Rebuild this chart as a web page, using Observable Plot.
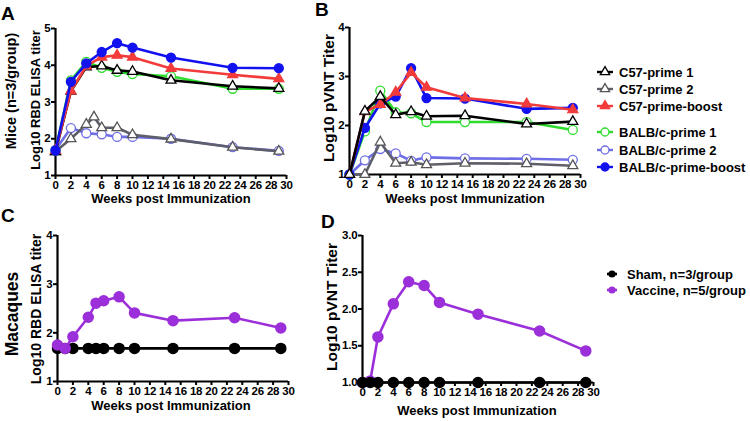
<!DOCTYPE html>
<html>
<head>
<meta charset="utf-8">
<script src="https://cdn.jsdelivr.net/npm/d3@7"></script>
<script src="https://cdn.jsdelivr.net/npm/@observablehq/plot@0.6"></script>
<style>
  html, body { margin: 0; padding: 0; background: #fff; }
  #root { position: relative; width: 750px; height: 421px; overflow: hidden; }
  .panel { position: absolute; }
  #overlay { position: absolute; left: 0; top: 0; pointer-events: none; }
</style>
</head>
<body>
<div id="root"></div>
<script>
// ---------- data ----------
const xTicks = [0,2,4,6,8,10,12,14,16,18,20,22,24,26,28,30];

// Panel A: mice RBD ELISA titer (log10)
const weeksMice = [0,2,4,6,8,10,15,23,29];
const weeksMiceC57p2 = [0,2,4,5,6,8,10,15,23,29];
const elisaC57p1  = [1.65,3.29,3.95,3.98,3.86,3.83,3.59,3.43,3.37];
const elisaC57p2  = [1.65,2.00,2.39,2.59,2.30,2.30,2.11,1.99,1.77,1.66];
const elisaC57pb  = [1.68,3.30,3.98,4.22,4.27,4.22,3.91,3.74,3.63];
const elisaBalbp1 = [1.68,3.59,4.09,3.93,3.82,3.76,3.70,3.36,3.36];
const elisaBalbp2 = [1.70,2.29,2.15,2.12,2.05,2.05,2.00,1.77,1.67];
const elisaBalbpb = [1.68,3.55,4.05,4.36,4.60,4.48,4.21,3.93,3.92];

// Panel B: mice pVNT titer (log10)
const pvntC57p1  = [1.00,2.29,2.59,2.22,2.28,2.19,2.20,2.03,2.08];
const pvntC57p2  = [1.00,1.00,1.66,1.23,1.25,1.20,1.23,1.22,1.18];
const pvntC57pb  = [1.00,2.28,2.43,2.68,3.08,2.78,2.56,2.44,2.32];
const pvntBalbp1 = [1.00,1.88,2.71,2.27,2.25,2.07,2.07,2.07,1.91];
const pvntBalbp2 = [1.00,1.29,1.52,1.43,1.28,1.35,1.33,1.32,1.30];
const pvntBalbpb = [1.00,1.95,2.45,2.59,3.17,2.56,2.55,2.34,2.36];

// Panel C: macaque RBD ELISA titer
const weeksMacC = [0,1,2,4,5,6,8,10,15,23,29];
const elisaSham    = [1.68,1.68,1.68,1.68,1.68,1.68,1.68,1.68,1.68,1.68,1.68];
const elisaVaccine = [1.75,1.68,1.92,2.32,2.61,2.66,2.74,2.41,2.25,2.31,2.10];

// Panel D: macaque pVNT titer
const weeksMacD = [0,1,2,4,6,8,10,15,23,29];
const pvntSham    = [1.00,1.00,1.00,1.00,1.00,1.00,1.00,1.00,1.00,1.00];
const pvntVaccine = [1.00,1.02,1.62,2.07,2.37,2.32,2.09,1.93,1.70,1.43];

// labels
const miceGroups = ["C57-prime 1","C57-prime 2","C57-prime-boost","BALB/c-prime 1","BALB/c-prime 2","BALB/c-prime-boost"];
const macGroups = ["Sham, n=3/group","Vaccine, n=5/group"];

// ---------- styles ----------
const FONT = "'Liberation Sans', Arial, Helvetica, sans-serif";
const miceStyle = {
  "C57-prime 1":        {color:"#000000", symbol:"triangle", fill:"#ffffff", mstroke:"#000000"},
  "C57-prime 2":        {color:"#5f5f6a", symbol:"triangle", fill:"#ffffff", mstroke:"#555555"},
  "C57-prime-boost":    {color:"#f23b3b", symbol:"triangle", fill:"#f23b3b", mstroke:"#f23b3b"},
  "BALB/c-prime 1":     {color:"#2edc2e", symbol:"circle",   fill:"#ffffff", mstroke:"#2edc2e"},
  "BALB/c-prime 2":     {color:"#6e6ee6", symbol:"circle",   fill:"#ffffff", mstroke:"#6e6ee6"},
  "BALB/c-prime-boost": {color:"#1212f0", symbol:"circle",   fill:"#1212f0", mstroke:"#1212f0"}
};
const macStyle = {
  "Sham, n=3/group":    {color:"#000000"},
  "Vaccine, n=5/group": {color:"#9b2fd9"}
};

function rows(weeks, vals) { return weeks.map((w,i) => ({w, v: vals[i]})); }

const miceA = {
  "BALB/c-prime 2": rows(weeksMice, elisaBalbp2),
  "C57-prime 2": rows(weeksMiceC57p2, elisaC57p2),
  "BALB/c-prime 1": rows(weeksMice, elisaBalbp1),
  "C57-prime 1": rows(weeksMice, elisaC57p1),
  "C57-prime-boost": rows(weeksMice, elisaC57pb),
  "BALB/c-prime-boost": rows(weeksMice, elisaBalbpb)
};
const miceB = {
  "BALB/c-prime 2": rows(weeksMice, pvntBalbp2),
  "C57-prime 2": rows(weeksMice, pvntC57p2),
  "BALB/c-prime 1": rows(weeksMice, pvntBalbp1),
  "BALB/c-prime-boost": rows(weeksMice, pvntBalbpb),
  "C57-prime-boost": rows(weeksMice, pvntC57pb),
  "C57-prime 1": rows(weeksMice, pvntC57p1)
};
const macC = {
  "Sham, n=3/group": rows(weeksMacC, elisaSham),
  "Vaccine, n=5/group": rows(weeksMacC, elisaVaccine)
};
const macD = {
  "Vaccine, n=5/group": rows(weeksMacD, pvntVaccine),
  "Sham, n=3/group": rows(weeksMacD, pvntSham)
};

function miceMarks(series) {
  const marks = [];
  for (const [name, data] of Object.entries(series)) {
    const s = miceStyle[name];
    marks.push(Plot.line(data, {x:"w", y:"v", stroke:s.color, strokeWidth:2.6}));
    marks.push(Plot.dot(data, {x:"w", y:"v", symbol:s.symbol, r: s.symbol === "triangle" ? 3.7 : 4.5,
      fill:s.fill, stroke:s.mstroke, strokeWidth:1.3}));
  }
  return marks;
}
function macMarks(series) {
  const marks = [];
  for (const [name, data] of Object.entries(series)) {
    const s = macStyle[name];
    marks.push(Plot.line(data, {x:"w", y:"v", stroke:s.color, strokeWidth:2.6}));
    marks.push(Plot.dot(data, {x:"w", y:"v", r:5, fill:s.color, stroke:s.color}));
  }
  return marks;
}

function panel({left, top, width, height, mt, mr, mb, ml, yDomain, yTicks, yFormat, marks}) {
  const svg = Plot.plot({
    width, height,
    marginTop: mt, marginRight: mr, marginBottom: mb, marginLeft: ml,
    x: {domain:[0,30]},
    y: {domain:yDomain},
    style: {fontFamily: FONT, fontSize:"11.5px", fontWeight:"bold", color:"#000", background:"transparent", overflow:"visible", letterSpacing:"-0.2px"},
    marks: [
      Plot.axisX({ticks:xTicks, tickSize:4, tickPadding:1, strokeWidth:2, label:null, tickFormat:d3.format("d")}),
      Plot.axisY({ticks:yTicks, tickSize:4, tickPadding:1, strokeWidth:2, label:null, tickFormat:yFormat}),
      Plot.ruleX([0], {strokeWidth:2.2}),
      Plot.ruleY([yDomain[0]], {strokeWidth:2.2}),
      ...marks
    ]
  });
  svg.classList.add("panel");
  svg.style.left = left + "px";
  svg.style.top = top + "px";
  document.getElementById("root").appendChild(svg);
}

panel({left:0, top:0, width:300, height:200, mt:28, mr:14, mb:25, ml:55,
  yDomain:[1,5], yTicks:[1,2,3,4,5], yFormat:d3.format("d"), marks: miceMarks(miceA)});
panel({left:300, top:0, width:300, height:200, mt:27, mr:20, mb:26, ml:49,
  yDomain:[1,4], yTicks:[1,2,3,4], yFormat:d3.format("d"), marks: miceMarks(miceB)});
panel({left:0, top:205, width:300, height:216, mt:30, mr:12, mb:40, ml:57,
  yDomain:[1,4], yTicks:[1,2,3,4], yFormat:d3.format("d"), marks: macMarks(macC)});
panel({left:300, top:205, width:300, height:216, mt:30, mr:7, mb:39, ml:62,
  yDomain:[1,3], yTicks:[1,1.5,2,2.5,3], yFormat:d3.format(".1f"), marks: macMarks(macD)});

// ---------- overlay text & legends ----------
const ov = d3.select("#root").append("svg").attr("id","overlay")
  .attr("width",750).attr("height",421)
  .style("font-family", FONT).style("font-weight","bold");

function label(txt, x, y, size, rot) {
  ov.append("text").text(txt)
    .attr("transform", `translate(${x},${y})` + (rot ? ` rotate(${rot})` : ""))
    .attr("text-anchor","middle").attr("dominant-baseline","central")
    .attr("font-size", size).attr("fill","#000");
}
function letter(txt, x, y) {
  ov.append("text").text(txt).attr("x",x).attr("y",y).attr("font-size",19).attr("fill","#000");
}
letter("A", 1, 20); letter("B", 315, 16); letter("C", 1, 222); letter("D", 321, 228);

label("Mice (n=3/group)", 11, 91, 14.5, -90);
label("Log10 RBD ELISA titer", 35, 100, 13, -90);
label("Weeks post Immunization", 171, 198, 13);
label("Log10 pVNT Titer", 328, 98, 15.5, -90);
label("Weeks post Immunization", 465, 198, 13);
label("Macaques", 12, 314, 17.5, -90);
label("Log10 RBD ELISA titer", 36, 309, 14, -90);
label("Weeks post Immunization", 171, 405, 13);
label("Log10 pVNT Titer", 331, 307, 15.5, -90);
label("Weeks post Immunization", 477, 410, 13);

// legend 1 (mice)
const legY = [72, 89, 106, 132, 150, 167];
miceGroups.forEach((name, i) => {
  const s = miceStyle[name], y = legY[i];
  ov.append("line").attr("x1",597).attr("x2",613).attr("y1",y).attr("y2",y)
    .attr("stroke",s.color).attr("stroke-width",2.4);
  const sym = s.symbol === "triangle" ? d3.symbolTriangle : d3.symbolCircle;
  const size = s.symbol === "triangle" ? 38 : 50;
  ov.append("path").attr("d", d3.symbol(sym, size)()).attr("transform",`translate(605,${y})`)
    .attr("fill",s.fill).attr("stroke",s.mstroke).attr("stroke-width",1.3);
  ov.append("text").text(name).attr("x",619).attr("y",y).attr("dominant-baseline","central")
    .attr("font-size",13).attr("fill","#000");
});
// legend 2 (macaques)
const leg2Y = [274, 290];
macGroups.forEach((name, i) => {
  const s = macStyle[name], y = leg2Y[i];
  ov.append("line").attr("x1",607).attr("x2",617).attr("y1",y).attr("y2",y)
    .attr("stroke",s.color).attr("stroke-width",2.6);
  ov.append("circle").attr("cx",612).attr("cy",y).attr("r",3.6).attr("fill",s.color);
  ov.append("text").text(name).attr("x",627).attr("y",y).attr("dominant-baseline","central")
    .attr("font-size",13).attr("fill","#000");
});
</script>
</body>
</html>
